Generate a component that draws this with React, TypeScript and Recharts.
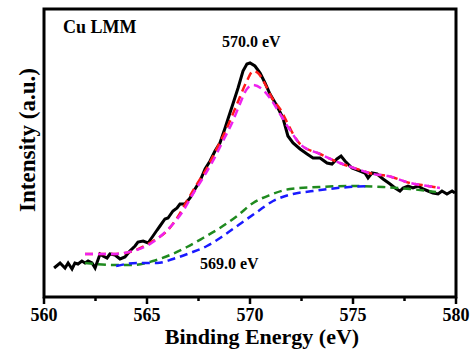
import { LineChart, Line, XAxis, YAxis, ReferenceArea } from 'recharts';

const FONT = "'Liberation Serif', 'Times New Roman', serif";

// Cu LMM Auger region, binding energy (eV) vs intensity (a.u.)
const rawEnergy = [
  560.49, 560.78, 561.02, 561.17, 561.36, 561.5, 561.65, 561.84, 561.99, 562.14,
  562.33, 562.48, 562.72, 562.86, 563.06, 563.2, 563.45, 563.69, 563.93, 564.17,
  564.42, 564.56, 564.81, 565.05, 565.29, 565.49, 565.63, 565.87, 566.02, 566.26,
  566.46, 566.6, 566.84, 567.09, 567.33, 567.57, 567.82, 568.06, 568.3, 568.54,
  568.79, 568.93, 569.17, 569.42, 569.66, 569.85, 570.0, 570.24, 570.49, 570.73,
  570.97, 571.31, 571.6, 571.84, 572.09, 572.43, 572.77, 573.06, 573.4, 573.74,
  573.98, 574.22, 574.42, 574.61, 574.95, 575.34, 575.58, 575.73, 575.92, 576.17,
  576.46, 576.8, 577.04, 577.28, 577.43, 577.67, 577.91, 578.16, 578.4, 578.64,
  578.88, 579.13, 579.32, 579.56, 579.81, 579.95,
];
const rawIntensity = [
  29, 34, 29, 34, 28, 34, 33, 36, 34, 36,
  34, 29, 43, 41, 39, 43, 42, 38, 40, 46,
  51, 55, 56, 54, 61, 67, 71, 78, 79, 86,
  89, 93, 93, 99, 108, 116, 128, 136, 146, 154,
  169, 178, 193, 209, 226, 233, 234, 231, 224, 214,
  203, 191, 179, 161, 154, 148, 143, 139, 139, 134,
  133, 138, 141, 136, 129, 126, 124, 119, 124, 123,
  118, 113, 109, 106, 109, 111, 109, 111, 108, 106,
  104, 103, 106, 103, 106, 104,
];

// fitted envelope (red)
const envelopeEnergy = [
  561.99, 563.35, 564.17, 565.29, 565.97, 566.46, 566.94, 567.43, 567.91, 568.4,
  568.88, 569.37, 569.85, 570.15, 570.39, 570.73, 571.07, 571.46, 571.84, 572.09,
  572.43, 573.4, 574.37, 575.34, 575.97, 576.7, 577.77, 578.64, 579.22,
];
const envelopeIntensity = [
  43, 43, 45, 56, 66, 79, 96, 113, 129, 149,
  169, 193, 216, 226, 224, 213, 199, 188, 173, 163,
  153, 143, 134, 127, 123, 121, 114, 111, 109,
];

// 570.0 eV component (magenta)
const peakAEnergy = [
  561.99, 563.35, 564.32, 565.15, 565.78, 566.26, 566.75, 567.23, 567.72, 568.2,
  568.69, 569.17, 569.51, 569.85, 570.15, 570.58, 570.97, 571.46, 571.94, 572.43,
  573.4, 574.37, 575.34, 575.97, 576.7, 577.77, 578.64, 579.22,
];
const peakAIntensity = [
  43, 43, 46, 53, 63, 73, 86, 103, 119, 136,
  156, 176, 193, 208, 212, 208, 199, 183, 167, 153,
  143, 134, 127, 123, 121, 114, 111, 109,
];

// 569.0 eV component (blue)
const peakBEnergy = [
  563.5, 564.51, 565.49, 566.26, 567.09, 567.91, 568.69, 569.51, 570.34, 571.12,
  572.09, 573.06, 573.83, 574.81, 575.83,
];
const peakBIntensity = [
  31, 34, 34, 38, 44, 51, 61, 73, 85, 96,
  103, 106, 108, 110, 111,
];

// background (green)
const bgEnergy = [
  561.99, 563.35, 564.32, 565.29, 566.12, 566.94, 567.72, 568.54, 569.37, 570.15,
  570.97, 571.94, 573.35, 575.0, 576.46, 577.77, 579.03,
];
const bgIntensity = [
  34, 32, 32, 36, 42, 50, 59, 69, 81, 94,
  102, 108, 110, 111, 110, 108, 105,
];

const majorTicks = [560, 565, 570, 575, 580];
const minorTicks = [562.5, 567.5, 572.5, 577.5];

const zip = (xs: number[], ys: number[]) => xs.map((x, i) => ({ x, y: ys[i] }));

const raw = zip(rawEnergy, rawIntensity);
const envelope = zip(envelopeEnergy, envelopeIntensity);
const peakA = zip(peakAEnergy, peakAIntensity);
const peakB = zip(peakBEnergy, peakBIntensity);
const background = zip(bgEnergy, bgIntensity);

function EnergyTick(props: any) {
  const { x, y, payload } = props;
  const major = majorTicks.includes(payload.value);
  return (
    <g>
      <line x1={x} x2={x} y1={y} y2={y + (major ? 7 : 4)} stroke="#000" strokeWidth={2.5} />
      {major && (
        <text x={x} y={y + 24} textAnchor="middle" fontFamily={FONT} fontWeight={700} fontSize={18} fill="#000">
          {payload.value}
        </text>
      )}
    </g>
  );
}

const DASH = '8 5';

export default function App() {
  return (
    <div style={{ position: 'absolute', left: 0, top: 0, width: 472, height: 358, background: '#fff' }}>
      <LineChart width={472} height={358} margin={{ top: 9, right: 16, left: 44, bottom: 0 }}>
        <XAxis
          type="number"
          dataKey="x"
          domain={[560, 580]}
          ticks={[...majorTicks, ...minorTicks].sort((a, b) => a - b)}
          interval={0}
          allowDataOverflow
          axisLine={false}
          tickLine={false}
          tickSize={0}
          tickMargin={0}
          height={61}
          tick={<EnergyTick />}
        />
        <YAxis type="number" domain={[0, 288]} hide allowDataOverflow />
        <Line data={raw} dataKey="y" type="linear" stroke="#000" strokeWidth={3} dot={false} isAnimationActive={false} />
        <Line data={background} dataKey="y" type="monotone" stroke="#1f8a1f" strokeWidth={2.5} strokeDasharray={DASH} dot={false} isAnimationActive={false} />
        <Line data={peakB} dataKey="y" type="monotone" stroke="#1a1aff" strokeWidth={2.5} strokeDasharray={DASH} dot={false} isAnimationActive={false} />
        <Line data={envelope} dataKey="y" type="monotone" stroke="#ff1a1a" strokeWidth={2.5} strokeDasharray={DASH} dot={false} isAnimationActive={false} />
        <Line data={peakA} dataKey="y" type="monotone" stroke="#ee22ee" strokeWidth={2.5} strokeDasharray={DASH} dot={false} isAnimationActive={false} />
        <ReferenceArea x1={560} x2={580} y1={0} y2={288} fill="none" stroke="#000" strokeWidth={3} />
      </LineChart>
      <svg width={472} height={358} style={{ position: 'absolute', left: 0, top: 0, pointerEvents: 'none' }}>
        <g fontFamily={FONT} fontWeight={700} fill="#000">
          <text x={63} y={33} fontSize={18}>Cu LMM</text>
          <text x={222} y={47} fontSize={16}>570.0 eV</text>
          <text x={200} y={269} fontSize={16}>569.0 eV</text>
          <text x={262} y={344} fontSize={22} textAnchor="middle">Binding Energy (eV)</text>
          <text x={35} y={140} fontSize={23} textAnchor="middle" transform="rotate(-90 35 140)">Intensity (a.u.)</text>
        </g>
      </svg>
    </div>
  );
}
